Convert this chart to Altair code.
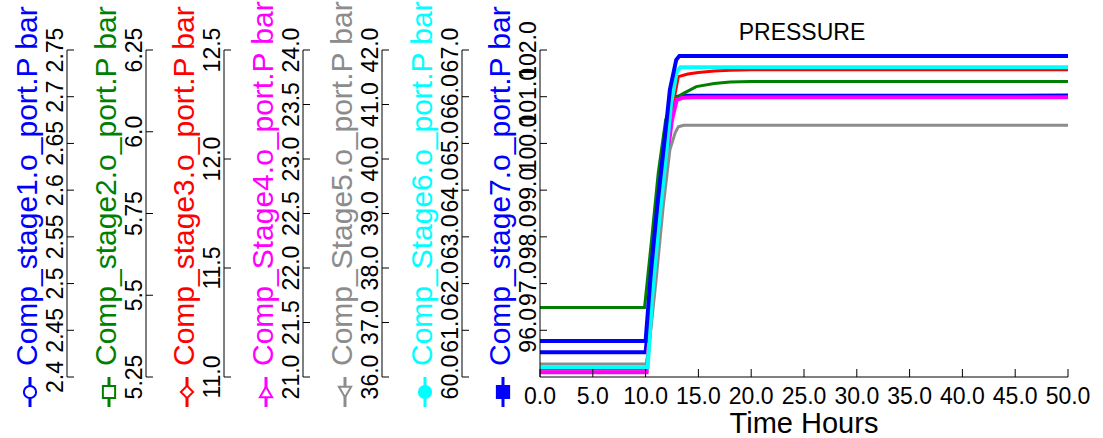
import altair as alt
import pandas as pd

FONT = "Liberation Sans"

# ---- data (time in hours, pressure in bar) ----
names = [
    "Comp_stage1.o_port.P bar",
    "Comp_stage2.o_port.P bar",
    "Comp_stage3.o_port.P bar",
    "Comp_Stage4.o_port.P bar",
    "Comp_Stage5.o_port.P bar",
    "Comp_Stage6.o_port.P bar",
    "Comp_stage7.o_port.P bar",
]
colors = ["#0000ff", "#008000", "#ff0000", "#ff00ff", "#8c8c8c", "#00ffff", "#0000ff"]
shapes = ["circle", "square", "diamond", "triangle-up", "triangle-down", "circle", "square"]
filled = [False, False, False, False, False, True, True]
widths = [4, 3, 3, 4, 3, 4, 4]

domains = [(2.4, 2.75), (5.25, 6.25), (11.0, 12.5), (21.0, 24.0), (36.0, 42.0), (60.0, 67.0), (95.0, 102.0)]
ticks = [
    [2.4, 2.45, 2.5, 2.55, 2.6, 2.65, 2.7, 2.75],
    [5.25, 5.5, 5.75, 6.0, 6.25],
    [11.0, 11.5, 12.0, 12.5],
    [21.0, 21.5, 22.0, 22.5, 23.0, 23.5, 24.0],
    [36.0, 37.0, 38.0, 39.0, 40.0, 41.0, 42.0],
    [60.0, 61.0, 62.0, 63.0, 64.0, 65.0, 66.0, 67.0],
    [96.0, 97.0, 98.0, 99.0, 100.0, 101.0, 102.0],
]
tick_labels = [
    ["2.4", "2.45", "2.5", "2.55", "2.6", "2.65", "2.7", "2.75"],
    ["5.25", "5.5", "5.75", "6.0", "6.25"],
    ["11.0", "11.5", "12.0", "12.5"],
    ["21.0", "21.5", "22.0", "22.5", "23.0", "23.5", "24.0"],
    ["36.0", "37.0", "38.0", "39.0", "40.0", "41.0", "42.0"],
    ["60.0", "61.0", "62.0", "63.0", "64.0", "65.0", "66.0", "67.0"],
    ["96.0", "97.0", "98.0", "99.0", "100.0", "101.0", "102.0"],
]
x_domain = [0, 50]
x_ticks = [0, 5, 10, 15, 20, 25, 30, 35, 40, 45, 50]
x_tick_labels = ["0.0", "5.0", "10.0", "15.0", "20.0", "25.0", "30.0", "35.0", "40.0", "45.0", "50.0"]
x_title = "Time Hours"
chart_title = "PRESSURE"

t1 = [0, 10.0, 10.4, 11.0, 11.5, 12.0, 12.5, 12.95, 13.5, 50]
v1 = [2.4264, 2.4264, 2.4726, 2.5366, 2.5899, 2.6433, 2.6838, 2.6998, 2.7009, 2.7012]
t2 = [0, 9.9, 10.57, 11.2, 11.9, 12.6, 13.5, 14.8, 16.5, 18.0, 20.0, 50]
v2 = [5.4625, 5.4625, 5.6707, 5.875, 6.0366, 6.0976, 6.1159, 6.1381, 6.1473, 6.1524, 6.154, 6.154]
t3 = [0, 10.1, 10.6, 11.2, 11.9, 12.5, 13.1, 14.0, 15.0, 16.5, 18.0, 20.0, 50]
v3 = [11.037, 11.037, 11.357, 11.654, 11.974, 12.226, 12.378, 12.390, 12.397, 12.404, 12.407, 12.409, 12.409]
t4 = [0, 10.1, 10.5, 11.0, 11.5, 12.0, 12.5, 12.95, 13.5, 14.5, 50]
v4 = [21.043, 21.043, 21.530, 22.079, 22.564, 22.994, 23.360, 23.543, 23.561, 23.566, 23.566]
t5 = [0, 10.1, 10.5, 11.0, 11.67, 12.3, 12.8, 13.1, 13.6, 50]
v5 = [36.24, 36.24, 36.88, 37.79, 39.13, 40.17, 40.48, 40.59, 40.62, 40.62]
t6 = [0, 10.2, 10.6, 11.2, 11.9, 12.4, 12.95, 13.3, 50]
v6 = [60.21, 60.21, 61.66, 63.16, 64.65, 65.83, 66.53, 66.63, 66.63]
t7 = [0, 10.0, 10.5, 11.1, 11.8, 12.3, 12.9, 13.2, 50]
v7 = [95.77, 95.77, 97.24, 98.65, 100.08, 101.15, 101.79, 101.87, 101.87]

times = [t1, t2, t3, t4, t5, t6, t7]
values = [v1, v2, v3, v4, v5, v6, v7]

# ---- layout ----
W, H = 528, 327
axis_x = [-473, -394, -316, -237, -158, -78, 0]   # axis line positions relative to plot left
TICK = 7

x_scale = alt.Scale(domain=x_domain, nice=False, zero=False)
dummy = pd.DataFrame({"a": [0]})

line_layers, axis_layers, deco_layers = [], [], []

# ---- x axis: line, inward ticks, labels, title ----
axis_layers.append(
    alt.Chart(pd.DataFrame({"lo": [x_domain[0]], "hi": [x_domain[1]]})).mark_rule(color="black", strokeWidth=1).encode(
        x=alt.X("lo:Q", scale=x_scale, axis=None), x2="hi:Q", y=alt.value(H)
    )
)
xt = pd.DataFrame({"v": x_ticks, "label": x_tick_labels})
axis_layers.append(
    alt.Chart(xt).mark_rule(color="black", strokeWidth=1).encode(
        x=alt.X("v:Q", scale=x_scale, axis=None), y=alt.value(H - 8), y2=alt.value(H)
    )
)
axis_layers.append(
    alt.Chart(xt).mark_text(font=FONT, fontSize=23, color="black", align="center", baseline="top").encode(
        x=alt.X("v:Q", scale=x_scale, axis=None), y=alt.value(H + 9), text="label:N"
    )
)
deco_layers.append(
    alt.Chart(dummy).mark_text(
        text=x_title, font=FONT, fontSize=29, color="black", align="center", baseline="alphabetic"
    ).encode(x=alt.value(W / 2), y=alt.value(H + 56))
)

# ---- one y axis per series ----
for i in range(7):
    y_scale = alt.Scale(domain=list(domains[i]), nice=False, zero=False)
    ax = axis_x[i]
    axis_layers.append(
        alt.Chart(pd.DataFrame({"lo": [domains[i][0]], "hi": [domains[i][1]]})).mark_rule(color="black", strokeWidth=1).encode(
            y=alt.Y("lo:Q", scale=y_scale, axis=None), y2="hi:Q", x=alt.value(ax)
        )
    )
    yt = pd.DataFrame({"v": ticks[i], "label": tick_labels[i]})
    axis_layers.append(
        alt.Chart(yt).mark_rule(color="black", strokeWidth=1).encode(
            y=alt.Y("v:Q", scale=y_scale, axis=None), x=alt.value(ax), x2=alt.value(ax + TICK)
        )
    )
    axis_layers.append(
        alt.Chart(yt).mark_text(
            font=FONT, fontSize=23, color="black", angle=270, align="center", baseline="alphabetic"
        ).encode(y=alt.Y("v:Q", scale=y_scale, axis=None), x=alt.value(ax - 4), text="label:N")
    )
    deco_layers.append(
        alt.Chart(dummy).mark_text(
            text=names[i], font=FONT, fontSize=30, color=colors[i], angle=270, align="left", baseline="alphabetic"
        ).encode(x=alt.value(ax - 30), y=alt.value(316))
    )
    df = pd.DataFrame({"t": times[i], "v": values[i]})
    line_layers.append(
        alt.Chart(df).mark_line(color=colors[i], strokeWidth=widths[i]).encode(
            x=alt.X("t:Q", scale=x_scale, axis=None),
            y=alt.Y("v:Q", scale=y_scale, axis=None),
        )
    )
    # legend-like glyph below each axis title
    gx = ax - 37
    deco_layers.append(
        alt.Chart(dummy).mark_rule(color=colors[i], strokeWidth=3).encode(
            x=alt.value(gx), y=alt.value(327), y2=alt.value(357)
        )
    )
    deco_layers.append(
        alt.Chart(dummy).mark_point(
            shape=shapes[i], filled=True, size=150, strokeWidth=2, opacity=1,
            fill=colors[i] if filled[i] else "white", stroke=colors[i],
        ).encode(x=alt.value(gx), y=alt.value(342))
    )

deco_layers.append(
    alt.Chart(dummy).mark_text(
        text=chart_title, font=FONT, fontSize=23, color="black", align="center", baseline="alphabetic"
    ).encode(x=alt.value(262), y=alt.value(-10))
)

chart = (
    alt.layer(*(line_layers + axis_layers + deco_layers))
    .resolve_scale(y="independent")
    .properties(
        width=W, height=H,
        autosize=alt.AutoSizeParams(type="none"),
        padding={"left": 540, "top": 50, "right": 35, "bottom": 61},
        background="white",
    )
    .configure_view(stroke=None)
)

chart.save("out.html", embed_options={"renderer": "svg", "actions": False})
